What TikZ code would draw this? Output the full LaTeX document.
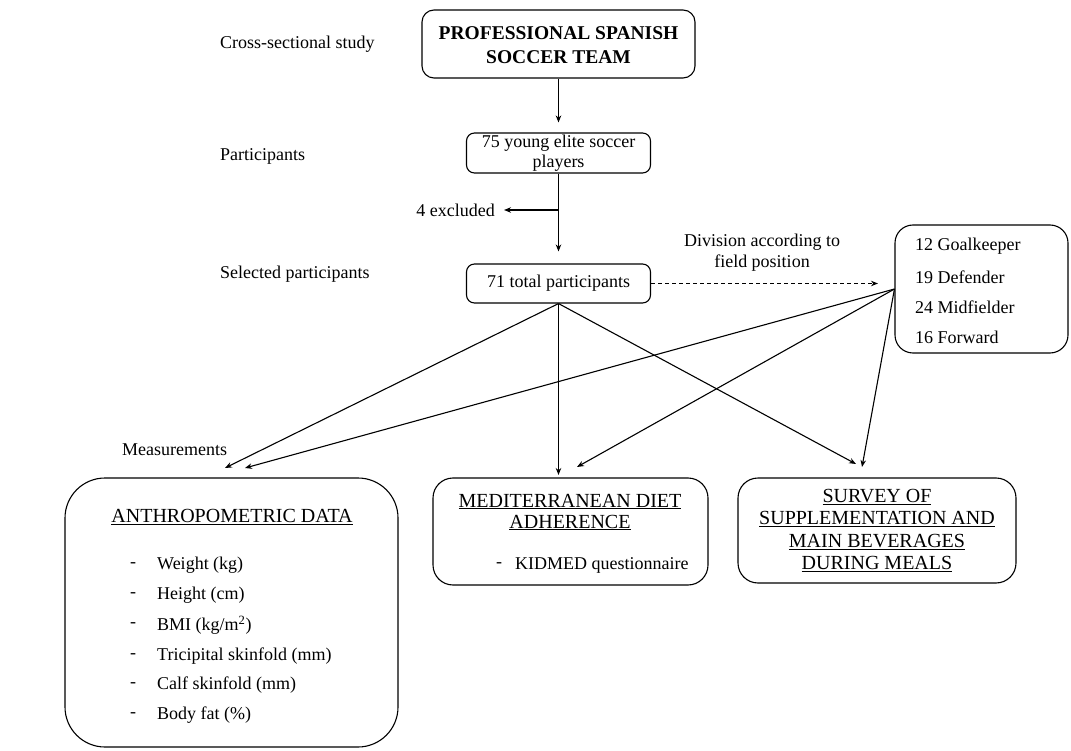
\documentclass[tikz,border=0pt]{standalone}
\usepackage{fontspec}
\setmainfont{Liberation Serif}
\usetikzlibrary{arrows.meta}
\tikzset{
  box/.style={draw, line width=1.1pt, rectangle, inner sep=0pt},
  txt/.style={inner sep=0pt, font=\fontsize{18}{22}\selectfont},
  ttl/.style={inner sep=0pt, align=center, font=\fontsize{20}{22}\selectfont},
  arr/.style={line width=1.1pt, -{Stealth[length=7pt,width=5.5pt]}},
}
\begin{document}
\begin{tikzpicture}[x=1pt,y=-1pt]
\useasboundingbox (0,0) rectangle (1071,751);
% boxes
\node[box, rounded corners=12pt, minimum width=273pt, minimum height=68pt] (top) at (558.5,44) {};
\node[box, rounded corners=8pt, minimum width=184pt, minimum height=40pt] (p75) at (558.5,153) {};
\node[box, rounded corners=8pt, minimum width=184pt, minimum height=39pt] (p71) at (558.5,283.5) {};
\node[box, rounded corners=18pt, minimum width=173pt, minimum height=128pt] (pos) at (981.5,289) {};
\node[box, rounded corners=40pt, minimum width=333pt, minimum height=269pt] (anth) at (231.5,612.5) {};
\node[box, rounded corners=20pt, minimum width=275pt, minimum height=107pt] (med) at (570.5,531.5) {};
\node[box, rounded corners=20pt, minimum width=278pt, minimum height=105pt] (surv) at (877,530.5) {};
% texts in boxes
\node[inner sep=0pt, align=center, font=\fontsize{19.5}{24}\selectfont\bfseries] (toptxt) at (558.5,45) {PROFESSIONAL SPANISH\\SOCCER TEAM};
\node[txt, align=center, font=\fontsize{18}{20}\selectfont] (p75txt) at (558.5,153) {75 young elite soccer\\players};
\node[txt] (p71txt) at (558.5,283.5) {71 total participants};
\node[txt, anchor=west] (g1) at (915,246) {12 Goalkeeper};
\node[txt, anchor=west] (g2) at (915,277) {19 Defender};
\node[txt, anchor=west] (g3) at (915,307) {24 Midfielder};
\node[txt, anchor=west] (g4) at (915,337) {16 Forward};
\node[ttl] (anthttl) at (232,517) {\underline{ANTHROPOMETRIC DATA}};
\node[txt] (ad1) at (133,565) {-};
\node[txt] (ad2) at (133,595) {-};
\node[txt] (ad3) at (133,625) {-};
\node[txt] (ad4) at (133,656) {-};
\node[txt] (ad5) at (133,685) {-};
\node[txt] (ad6) at (133,715) {-};
\node[txt, anchor=west] (a1) at (157,565) {Weight (kg)};
\node[txt, anchor=west] (a2) at (157,595) {Height (cm)};
\node[txt, anchor=west] (a3) at (157,625) {BMI (kg/m\textsuperscript{2})};
\node[txt, anchor=west] (a4) at (157,656) {Tricipital skinfold (mm)};
\node[txt, anchor=west] (a5) at (157,685) {Calf skinfold (mm)};
\node[txt, anchor=west] (a6) at (157,715) {Body fat (\%)};
\node[ttl, font=\fontsize{20}{21}\selectfont] (medttl) at (570,512) {\underline{MEDITERRANEAN DIET}\\\underline{ADHERENCE}};
\node[txt] (md) at (499,565) {-};
\node[txt, anchor=west] (m1) at (515,565) {KIDMED questionnaire};
\node[ttl, font=\fontsize{20}{22.3}\selectfont] (survttl) at (877,530.5) {\underline{SURVEY OF}\\\underline{SUPPLEMENTATION AND}\\\underline{MAIN BEVERAGES}\\\underline{DURING MEALS}};
% side labels
\node[txt, anchor=west] (l1) at (220,44) {Cross-sectional study};
\node[txt, anchor=west] (l2) at (220,156) {Participants};
\node[txt, anchor=west] (l3) at (220,274) {Selected participants};
\node[txt, anchor=west] (l4) at (122,450) {Measurements};
\node[txt, anchor=east] (excl) at (495,210) {4 excluded};
\node[txt, align=center, font=\fontsize{18}{21}\selectfont] (div) at (762,253) {Division according to\\field position};
% coordinates
\coordinate (br) at (558.5,210);
\coordinate (exTip) at (504,210);
\coordinate (posTip) at (878,283.5);
\coordinate (aT1) at (225,468);
\coordinate (aT2) at (245,468);
\coordinate (mT1) at (558.5,475);
\coordinate (mT2) at (577,467);
\coordinate (sT1) at (856,464);
\coordinate (sT2) at (862,467);
% connectors
\draw[arr, shorten >=10pt] (top.south) -- (p75.north);
\draw[arr, shorten >=12pt] (p75.south) -- (p71.north);
\draw[arr] (br) -- (exTip);
\draw[arr, dashed, dash pattern=on 4pt off 3pt] (p71.east) -- (posTip);
\draw[arr] (p71.south) -- (aT1);
\draw[arr] (p71.south) -- (mT1);
\draw[arr] (p71.south) -- (sT1);
\draw[arr] (pos.west) -- (aT2);
\draw[arr] (pos.west) -- (mT2);
\draw[arr] (pos.west) -- (sT2);
\end{tikzpicture}
\end{document}
